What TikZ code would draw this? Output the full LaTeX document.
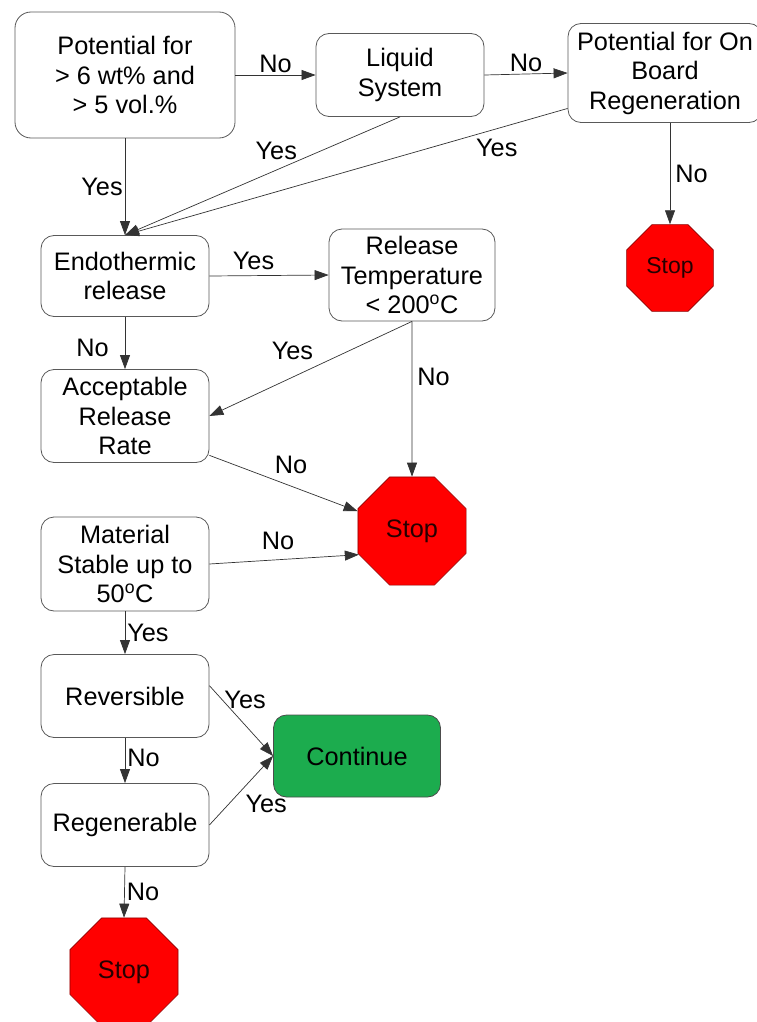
\documentclass[tikz,border=0pt]{standalone}
\usepackage{fontspec}
\setmainfont{Liberation Sans}
\usetikzlibrary{shapes.geometric,arrows.meta}

\definecolor{stopred}{RGB}{255,0,0}
\definecolor{gogreen}{RGB}{28,172,78}

\begin{document}
\begin{tikzpicture}[x=1pt,y=-1pt,
    font=\fontsize{25.3}{29.5}\selectfont,
    box/.style={draw=black!65, line width=0.8pt, rounded corners=13pt, fill=white,
        align=center, inner sep=0pt, minimum width=168pt, minimum height=83pt},
    stopsign/.style={draw=red!55!black, line width=0.6pt, fill=stopred, regular polygon,
        regular polygon sides=8, inner sep=0pt, minimum size=117pt, text=black!85!red},
    gobox/.style={box, draw=black!70, fill=gogreen, minimum width=167pt, minimum height=82pt},
    arr/.style={draw=black!80, line width=0.7pt, -{Triangle[length=14pt,width=10pt]}},
    lbl/.style={inner sep=2pt, text=black}]

\useasboundingbox (0,0) rectangle (757,1022);

\node[box, minimum width=220pt, minimum height=126pt, rounded corners=16pt] (start) at (125,75) {Potential for\\> 6 wt\% and\\> 5 vol.\%};
\node[box] (liquid) at (400,75) {Liquid\\System};
\node[box, minimum width=194pt, minimum height=99pt] (onboard) at (665,73) {Potential for On\\Board\\Regeneration};
\node[stopsign, minimum size=94pt, font=\fontsize{23}{27}\selectfont] (stopa) at (670,268) {Stop};

\node[box, minimum height=81pt] (endo) at (125,276) {Endothermic\\release};
\node[box, minimum width=166pt, minimum height=92pt] (reltemp) at (412,275) {Release\\Temperature\\< 200\textsuperscript{o}C};
\node[box, minimum height=93pt] (accept) at (125,416) {Acceptable\\Release\\Rate};
\node[stopsign] (stopb) at (412,531) {Stop};
\node[box, minimum height=94pt] (stable) at (125,564) {Material\\Stable up to\\50\textsuperscript{o}C};

\node[box] (revers) at (125,696) {Reversible};
\node[gobox] (cont) at (357,756) {Continue};
\node[box] (regen) at (125,825) {Regenerable};
\node[stopsign] (stopc) at (124,972) {Stop};

\draw[arr] (start.east) -- (liquid.west) node[lbl, midway, above] {No};
\draw[arr] (liquid.east) -- (onboard.west) node[lbl, midway, above] {No};
\draw[arr] (start.south) -- (endo.north) node[lbl, midway, left] {Yes};
\draw[arr] (liquid.south) -- (endo.north) node[lbl, pos=0.45, above=8pt] {Yes};
\draw[arr] (onboard.200) -- (endo.north) node[lbl, pos=0.16, below=8pt] {Yes};
\draw[arr] (stopa.north |- onboard.south) -- (stopa.north) node[lbl, midway, right=3pt] {No};

\draw[arr] (endo.east) -- (reltemp.west) node[lbl, pos=0.37, above=4pt] {Yes};
\draw[arr] (endo.south) -- (accept.north) node[lbl, pos=0.6, left=14pt] {No};
\draw[arr] (reltemp.south) -- (accept.east) node[lbl, pos=0.59, above=15pt] {Yes};
\draw[arr] (reltemp.south) -- (stopb.north) node[lbl, pos=0.36, right=3pt] {No};
\draw[arr] (accept.-25) -- (stopb.160) node[lbl, pos=0.55, above=10pt] {No};
\draw[arr] (stable.east) -- (stopb.204) node[lbl, pos=0.46, above=8pt] {No};

\draw[arr] (stable.south) -- (revers.north) node[lbl, midway, right] {Yes};
\draw[arr] (revers.7) -- (cont.west) node[lbl, pos=0.2, right] {Yes};
\draw[arr] (revers.south) -- (regen.north) node[lbl, pos=0.45, right] {No};
\draw[arr] (regen.east) -- (cont.west) node[lbl, pos=0.5, below right=2pt] {Yes};
\draw[arr] (regen.south) -- (stopc.north) node[lbl, midway, right] {No};

\end{tikzpicture}
\end{document}
